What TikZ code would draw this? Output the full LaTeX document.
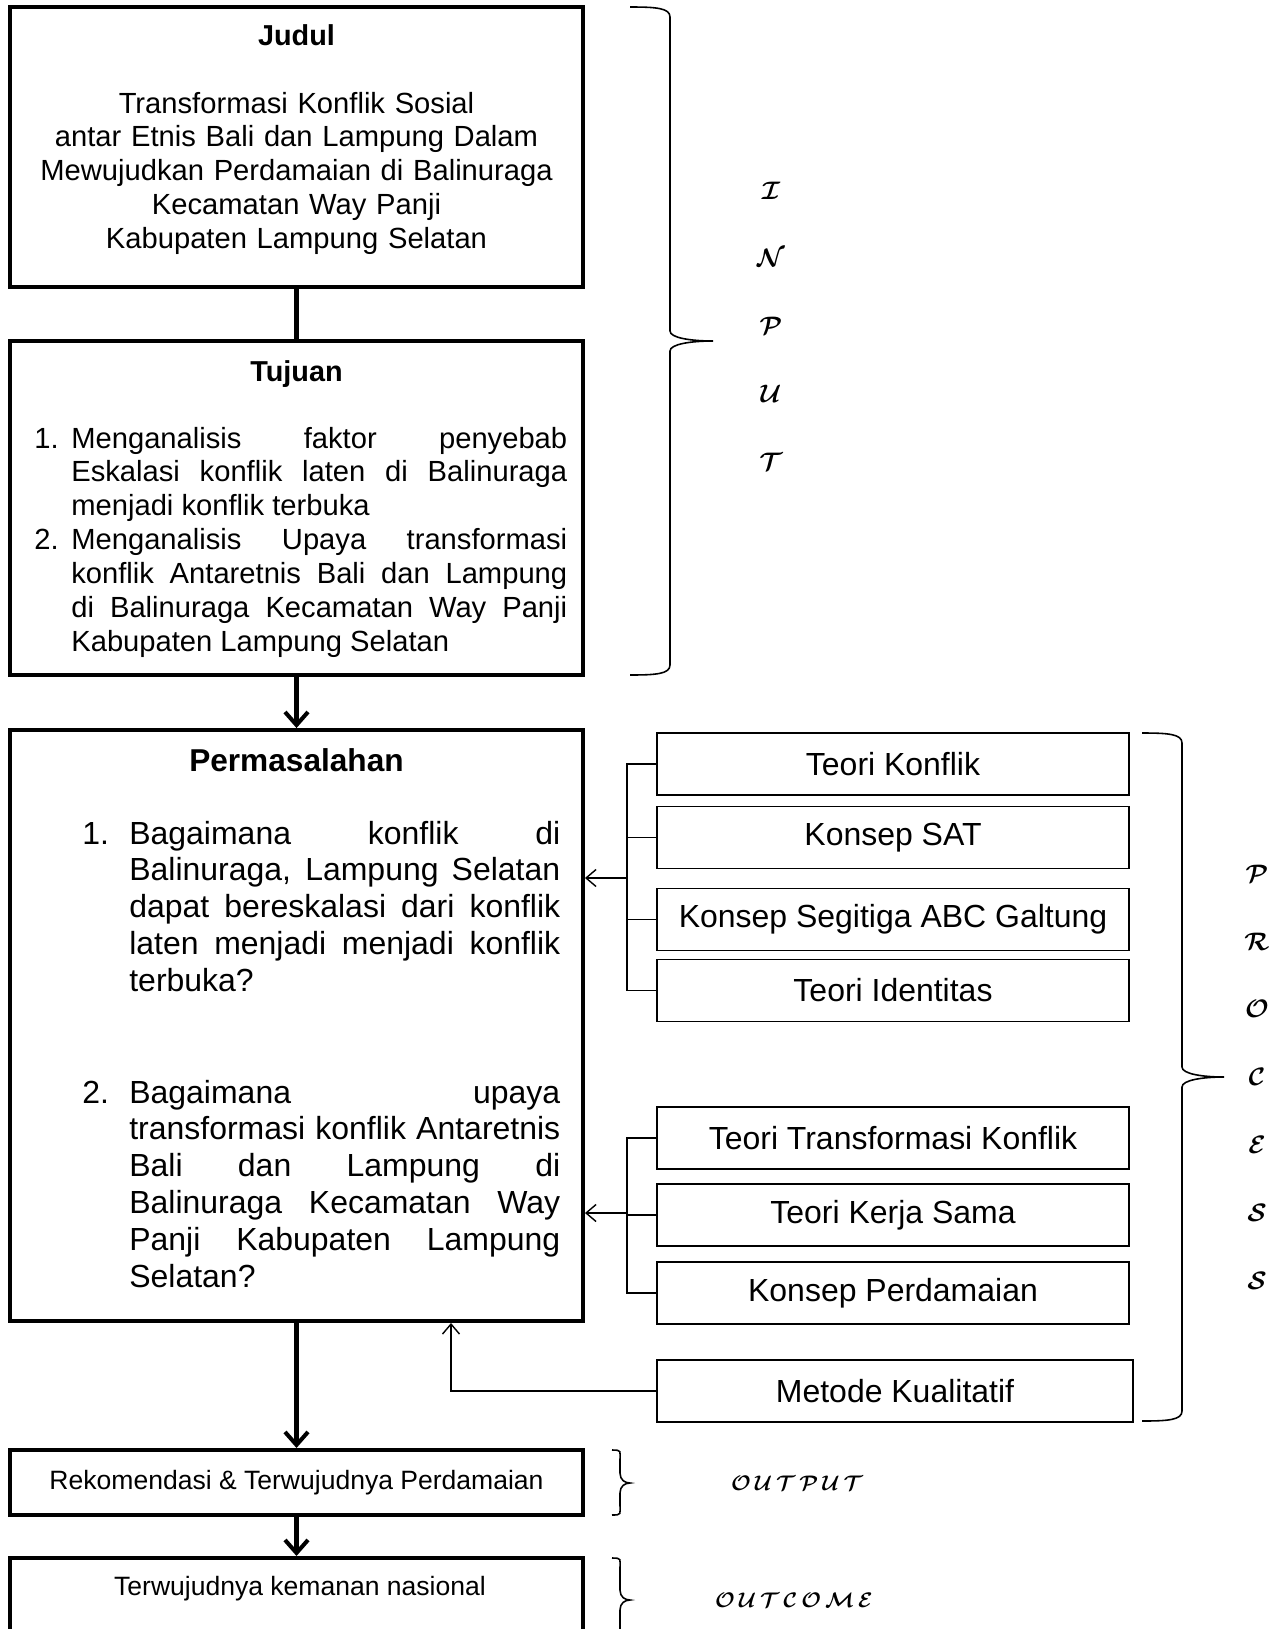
\documentclass[tikz,border=0pt]{standalone}
\usepackage{fontspec}
\setmainfont{Liberation Sans}
\usepackage{amsmath}
\usetikzlibrary{arrows.meta}

% one justified line of a list item
\newcommand{\jl}[1]{\makebox[\linewidth][s]{#1}}
% right curly brace: end x, stem x, tip x, top y, tip y, bottom y
\newcommand{\rightcurly}[6]{%
    \draw[curly] (#1,#4) .. controls ({(#1+#2)/2+6},#4) and (#2,#4+1) .. (#2,#4+10)
        -- (#2,#5-10) .. controls (#2,#5-3) and ({(#2+#3)/2},#5) .. (#3,#5)
        .. controls ({(#2+#3)/2},#5) and (#2,#5+3) .. (#2,#5+10)
        -- (#2,#6-10) .. controls (#2,#6-1) and ({(#1+#2)/2+6},#6) .. (#1,#6);}

\begin{document}
\begin{tikzpicture}[x=0.02cm, y=-0.02cm,
    bigbox/.style={draw, line width=2.3pt, minimum width=11.46cm, inner sep=0pt},
    theory/.style={draw, line width=1.1pt, minimum width=9.44cm, minimum height=1.24cm,
        inner sep=0pt, font=\fontsize{18.2}{21}\selectfont},
    midtext/.style={font=\fontsize{16.6}{19.3}\selectfont},
    bigtext/.style={font=\fontsize{18.2}{21}\selectfont},
    midhead/.style={font=\fontsize{16.4}{19.3}\selectfont\bfseries, anchor=base, inner sep=0pt},
    bighead/.style={font=\fontsize{18}{21}\selectfont\bfseries, anchor=base, inner sep=0pt},
    smalltext/.style={font=\fontsize{15.1}{18}\selectfont},
    thickarrow/.style={line width=2.3pt, -{Straight Barb[length=0.26cm, width=0.46cm]}},
    thinarrow/.style={line width=0.8pt, -{Straight Barb[length=0.2cm, width=0.34cm]}},
    stub/.style={line width=0.8pt},
    curly/.style={line width=0.9pt},
    lbl/.style={font=\fontsize{15}{38.6}\selectfont, align=center, inner sep=0pt},
    smalllbl/.style={font=\fontsize{12.5}{15}\selectfont, inner sep=0pt}]

    \useasboundingbox (0,0) rectangle (1285,1629);
    \clip (0,0) rectangle (1285,1629);

    % Judul
    \node[bigbox, minimum height=5.6cm] (judul) at (296.5,147) {};
    \node[midhead] (judult) at (296.5,46) {Judul};
    \node[midtext, anchor=base, text width=11cm, align=center, inner sep=0pt] (judulb) at (296.5,113)
        {Transformasi Konflik Sosial\\ antar Etnis Bali dan Lampung Dalam\\
         Mewujudkan Perdamaian di Balinuraga\\ Kecamatan Way Panji\\ Kabupaten Lampung Selatan};

    % Tujuan
    \node[bigbox, minimum height=6.68cm] (tujuan) at (296.5,508) {};
    \node[midhead] (tujuant) at (296.5,381) {Tujuan};
    \node[midtext, anchor=base west, inner sep=0pt] (tujuanl) at (34,448) {%
        \begin{tabular}[t]{@{}p{0.74cm}@{}p{9.92cm}@{}}
        1. & \jl{Menganalisis faktor penyebab}\newline
             \jl{Eskalasi konflik laten di Balinuraga}\newline
             menjadi konflik terbuka\\
        2. & \jl{Menganalisis Upaya transformasi}\newline
             \jl{konflik Antaretnis Bali dan Lampung}\newline
             \jl{di Balinuraga Kecamatan Way Panji}\newline
             Kabupaten Lampung Selatan
        \end{tabular}};

    % Permasalahan
    \node[bigbox, minimum height=11.82cm] (masalah) at (296.5,1025.5) {};
    \node[bighead] (masalaht) at (296.5,771) {Permasalahan};
    \node[bigtext, anchor=base west, inner sep=0pt] (q1) at (82,844) {%
        \begin{tabular}[t]{@{}p{0.94cm}@{}p{8.62cm}@{}}
        1. & \jl{Bagaimana konflik di}\newline
             \jl{Balinuraga, Lampung Selatan}\newline
             \jl{dapat bereskalasi dari konflik}\newline
             \jl{laten menjadi menjadi konflik}\newline
             terbuka?
        \end{tabular}};
    \node[bigtext, anchor=base west, inner sep=0pt] (q2) at (82,1103) {%
        \begin{tabular}[t]{@{}p{0.94cm}@{}p{8.62cm}@{}}
        2. & \jl{Bagaimana upaya}\newline
             \jl{transformasi konflik Antaretnis}\newline
             \jl{Bali dan Lampung di}\newline
             \jl{Balinuraga Kecamatan Way}\newline
             \jl{Panji Kabupaten Lampung}\newline
             Selatan?
        \end{tabular}};

    % Teori dan konsep
    \node[theory] (tk) at (893,764) {Teori Konflik};
    \node[theory] (sat) at (893,837.5) {Konsep SAT};
    \node[theory] (abc) at (893,919.5) {Konsep Segitiga ABC Galtung};
    \node[theory] (ident) at (893,990.5) {Teori Identitas};
    \node[theory] (transf) at (893,1138) {Teori Transformasi Konflik};
    \node[theory] (kerja) at (893,1215) {Teori Kerja Sama};
    \node[theory] (damai) at (893,1293) {Konsep Perdamaian};
    \node[theory, minimum width=9.52cm] (metode) at (895,1391) {Metode Kualitatif};

    \coordinate (busA) at (627,878);
    \coordinate (busB) at (627,1213);
    \coordinate (mup) at (451,1391);
    \foreach \t in {tk,sat,abc,ident}
        \draw[stub] (\t.west) -| (busA);
    \foreach \t in {transf,kerja,damai}
        \draw[stub] (\t.west) -| (busB);
    \draw[thinarrow] (busA) -- (busA -| masalah.east);
    \draw[thinarrow] (busB) -- (busB -| masalah.east);
    \draw[thinarrow] (metode.west) -| (masalah.south -| mup);

    % Output dan outcome
    \node[bigbox, smalltext, minimum height=1.3cm] (rekom) at (296.5,1482.5)
        {Rekomendasi \& Terwujudnya Perdamaian};
    \node[bigbox, minimum height=3.2cm] (outcome) at (296.5,1638) {};
    \node[smalltext, anchor=base, inner sep=0pt] (outcomet) at (300,1595)
        {Terwujudnya kemanan nasional};

    % main flow
    \draw[line width=2.3pt] (judul.south) -- (tujuan.north);
    \draw[thickarrow] (tujuan.south) -- (masalah.north);
    \draw[thickarrow] (masalah.south) -- (rekom.north);
    \draw[thickarrow] (rekom.south) -- (outcome.north);

    % Braces
    \rightcurly{630}{670}{713}{7}{341}{675}
    \rightcurly{1142}{1182}{1224}{733}{1077}{1421}
    \rightcurly{612}{620}{630}{1450}{1483}{1515}
    \rightcurly{612}{620}{630}{1558}{1600}{1642}

    \node[lbl] (inlbl) at (771,326) {$\boldsymbol{\mathcal{I}}$\\ $\boldsymbol{\mathcal{N}}$\\
        $\boldsymbol{\mathcal{P}}$\\ $\boldsymbol{\mathcal{U}}$\\ $\boldsymbol{\mathcal{T}}$};
    \node[lbl] (proclbl) at (1257,1077) {$\boldsymbol{\mathcal{P}}$\\ $\boldsymbol{\mathcal{R}}$\\
        $\boldsymbol{\mathcal{O}}$\\ $\boldsymbol{\mathcal{C}}$\\ $\boldsymbol{\mathcal{E}}$\\
        $\boldsymbol{\mathcal{S}}$\\ $\boldsymbol{\mathcal{S}}$};
    \node[smalllbl] (outlbl) at (797,1483)
        {$\boldsymbol{\mathcal{O}\,\mathcal{U}\,\mathcal{T}\,\mathcal{P}\,\mathcal{U}\,\mathcal{T}}$};
    \node[smalllbl] (outclbl) at (794,1600)
        {$\boldsymbol{\mathcal{O}\,\mathcal{U}\,\mathcal{T}\,\mathcal{C}\,\mathcal{O}\,\mathcal{M}\,\mathcal{E}}$};
\end{tikzpicture}
\end{document}
